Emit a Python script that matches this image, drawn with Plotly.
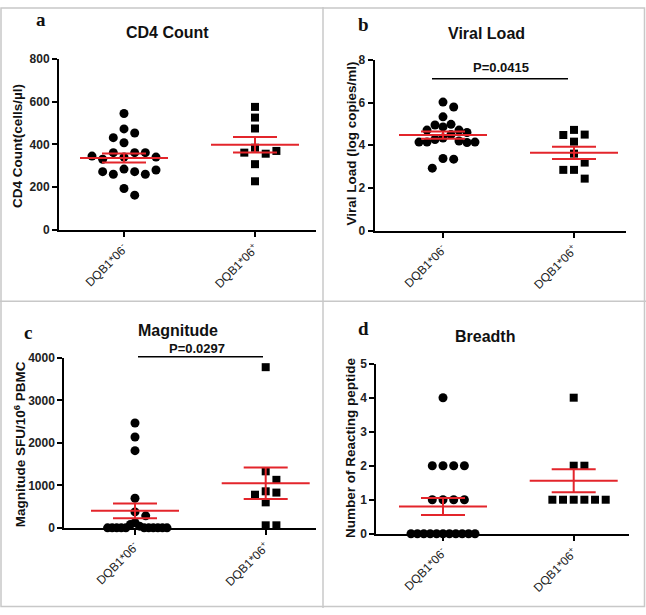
import numpy as np
import plotly.graph_objects as go

W, H = 646, 615

# ---------------- data ----------------
groups = ["DQB1*06<sup>-</sup>", "DQB1*06<sup>+</sup>"]

cd4_neg = [544, 472, 453, 431, 407, 361, 361, 361, 340, 330, 340, 345, 284, 272, 260, 260, 272, 280, 193, 162]
cd4_pos = [575, 525, 474, 384, 356, 361, 369, 307, 227]

vl_neg = [6.02, 5.79, 5.33, 4.98, 4.95, 4.86, 4.71, 4.71, 4.60, 4.50, 4.34, 4.27, 4.20, 4.15, 4.15, 4.13, 4.15, 3.38, 3.35, 2.93]
vl_pos = [4.72, 4.50, 4.48, 4.17, 3.61, 3.19, 2.85, 2.85, 2.44]

mag_neg = [2467, 2138, 1816, 697, 375, 283, 122, 80, 40, 0, 0, 0, 0, 0, 0, 0, 0, 0, 0, 0]
mag_pos = [3780, 1330, 1130, 860, 830, 780, 600, 60, 60]

br_neg = [4, 2, 2, 2, 2, 1, 1, 1, 1, 0, 0, 0, 0, 0, 0, 0, 0, 0, 0, 0]
br_pos = [4, 2, 2, 1, 1, 1, 1, 1, 1]

titles = ["CD4 Count", "Viral Load", "Magnitude", "Breadth"]
letters = ["a", "b", "c", "d"]
ytitles = ["CD4 Count(cells/µl)", "Viral Load (log copies/ml)",
           "Magnitude SFU/10<sup>6</sup> PBMC", "Number of Reacting peptide"]
yticks = [[0, 200, 400, 600, 800], [0, 2, 4, 6, 8],
          [0, 1000, 2000, 3000, 4000], [0, 1, 2, 3, 4, 5]]
pvals = [None, "P=0.0415", "P=0.0297", None]

# ---------------- layout constants (pixels) ----------------
panels = [
    dict(neg=cd4_neg, pos=cd4_pos, xpx=(59, 316), ypx=(228, 53), cat=(124, 255),
         title_xy=(167.7, 26), letter_xy=(40.7, 13), ytitle_xy=(17.3, 142)),
    dict(neg=vl_neg, pos=vl_pos, xpx=(374.7, 625.7), ypx=(229, 54), cat=(443, 574),
         title_xy=(486.3, 27), letter_xy=(364, 18), ytitle_xy=(351.7, 140),
         bracket=(432, 568, 73.3), ptext=(500.7, 62)),
    dict(neg=mag_neg, pos=mag_pos, xpx=(64.3, 316), ypx=(533, 359), cat=(135, 265.7),
         title_xy=(178, 331), letter_xy=(28.3, 333), ytitle_xy=(19.5, 448),
         bracket=(138, 263, 358), ptext=(197.5, 349)),
    dict(neg=br_neg, pos=br_pos, xpx=(376.3, 629), ypx=(539, 365), cat=(443, 573.7),
         title_xy=(484.7, 337), letter_xy=(364, 329), ytitle_xy=(350.5, 450.7)),
]

RED = "#e3252b"
D = 10.7      # swarm spacing (px)
MAXHALF = 32  # max half width of swarm (px)


def swarm(vals, ppu_y, d=D, maxhalf=MAXHALF):
    ys = np.asarray(vals, float) * ppu_y
    n = len(ys)
    offs = np.zeros(n)
    placed = []
    cands = [0.0]
    for k in range(1, 20):
        cands += [k * d, -k * d]
    for i in range(n):
        for c in cands:
            ok = True
            for j in placed:
                if (c - offs[j]) ** 2 + (ys[i] - ys[j]) ** 2 < (0.95 * d) ** 2:
                    ok = False
                    break
            if ok:
                offs[i] = c
                break
        placed.append(i)
    # compress wide rows
    order = np.argsort(ys)
    clusters, cur = [], [order[0]]
    for a, b in zip(order[:-1], order[1:]):
        if ys[b] - ys[a] < 0.6 * d:
            cur.append(b)
        else:
            clusters.append(cur)
            cur = [b]
    clusters.append(cur)
    for cl in clusters:
        m = np.max(np.abs(offs[cl]))
        if m > maxhalf:
            offs[cl] *= maxhalf / m
    return offs


fig = go.Figure()
annotations = []
shapes = []

for k, p in enumerate(panels):
    sfx = "" if k == 0 else str(k + 1)
    xa, ya = "x" + sfx, "y" + sfx
    x0px, x1px = p["xpx"]
    c0, c1 = p["cat"]
    ppx = c1 - c0                       # px per x unit
    xr = ((x0px - c0) / ppx, (x1px - c0) / ppx)
    yb, yt = p["ypx"]
    ymax = yticks[k][-1]
    ppy = (yb - yt) / ymax              # px per y unit

    for gi, (vals, sym, size) in enumerate([(p["neg"], "circle", 9), (p["pos"], "square", 8)]):
        offs = swarm(vals, ppy)
        fig.add_trace(go.Scatter(
            x=gi + offs / ppx, y=vals, mode="markers", xaxis=xa, yaxis=ya,
            marker=dict(symbol=sym, size=size, color="black", line=dict(width=0)),
            showlegend=False, hoverinfo="skip", cliponaxis=False))
    # mean +/- SEM
    for gi, vals in enumerate([p["neg"], p["pos"]]):
        v = np.asarray(vals, float)
        m = v.mean()
        s = v.std(ddof=1) / np.sqrt(len(v))
        hw, cw = 44 / ppx, 22 / ppx
        xs = [gi - hw, gi + hw, None, gi - cw, gi + cw, None, gi - cw, gi + cw, None, gi, gi]
        ys = [m, m, None, m + s, m + s, None, m - s, m - s, None, m - s, m + s]
        fig.add_trace(go.Scatter(x=xs, y=ys, mode="lines", xaxis=xa, yaxis=ya,
                                 line=dict(color=RED, width=2), showlegend=False,
                                 hoverinfo="skip"))

    fig.layout["xaxis" + sfx] = dict(
        domain=[x0px / W, x1px / W], range=list(xr), anchor=ya,
        tickvals=[0, 1], ticktext=groups, tickangle=-45,
        ticks="outside", ticklen=5, tickwidth=1.5, tickcolor="black",
        showline=True, linecolor="black", linewidth=2,
        showgrid=False, zeroline=False,
        tickfont=dict(family="Liberation Sans, Arial", size=12, color="#222"))
    fig.layout["yaxis" + sfx] = dict(
        domain=[1 - yb / H, 1 - yt / H], range=[0, ymax], anchor=xa,
        tickvals=yticks[k], ticks="outside", ticklen=5, tickwidth=2, tickcolor="black",
        showline=True, linecolor="black", linewidth=2,
        showgrid=False, zeroline=False,
        tickfont=dict(family="Liberation Sans, Arial", size=12, color="#222", weight="bold"))

    tx, ty = p["title_xy"]
    annotations.append(dict(text="<b>%s</b>" % titles[k], x=tx / W, y=1 - ty / H,
                            xref="paper", yref="paper", showarrow=False,
                            xanchor="center", yanchor="middle",
                            font=dict(family="Liberation Sans, Arial", size=16, color="#111")))
    lx, ly = p["letter_xy"]
    annotations.append(dict(text="<b>%s</b>" % letters[k], x=lx / W, y=1 - ly / H,
                            xref="paper", yref="paper", showarrow=False,
                            xanchor="center", yanchor="middle",
                            font=dict(family="Liberation Serif, Times New Roman", size=19, color="#111")))
    yx, yy = p["ytitle_xy"]
    annotations.append(dict(text="<b>%s</b>" % ytitles[k], x=yx / W, y=1 - yy / H, textangle=-90,
                            xref="paper", yref="paper", showarrow=False,
                            xanchor="center", yanchor="middle",
                            font=dict(family="Liberation Sans, Arial", size=13.5, color="#111")))
    if pvals[k]:
        bx0, bx1, by = p["bracket"]
        shapes.append(dict(type="line", xref="paper", yref="paper",
                           x0=bx0 / W, x1=bx1 / W, y0=1 - by / H, y1=1 - by / H,
                           line=dict(color="black", width=1.5)))
        ptx, pty = p["ptext"]
        annotations.append(dict(text="<b>%s</b>" % pvals[k], x=ptx / W, y=1 - pty / H,
                                xref="paper", yref="paper", showarrow=False,
                                xanchor="center", yanchor="middle",
                                font=dict(family="Liberation Sans, Arial", size=13, color="#111")))

# panel frames (light gray)
GR = "#c8c8c8"
shapes += [
    dict(type="rect", xref="paper", yref="paper", x0=1 / W, x1=1 - 1.5 / W, y0=1.5 / H, y1=1 - 1 / H,
         line=dict(color=GR, width=1.5)),
    dict(type="line", xref="paper", yref="paper", x0=323 / W, x1=323 / W, y0=0, y1=1,
         line=dict(color=GR, width=1.5)),
    dict(type="line", xref="paper", yref="paper", x0=0, x1=1, y0=1 - 301 / H, y1=1 - 301 / H,
         line=dict(color=GR, width=1.5)),
]

fig.update_layout(width=W, height=H, margin=dict(l=0, r=0, t=0, b=0),
                  paper_bgcolor="white", plot_bgcolor="white",
                  annotations=annotations, shapes=shapes, showlegend=False)

fig.write_html("out.html", post_script="document.body.style.margin='0px';",
               config={"displayModeBar": False})
